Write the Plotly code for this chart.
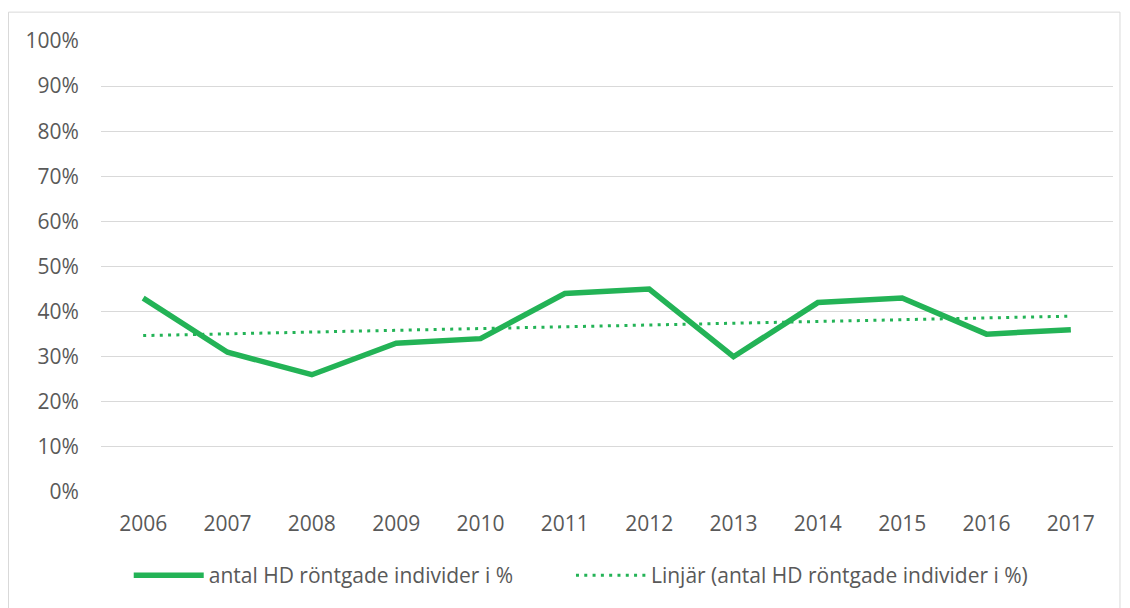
import numpy as np
import plotly.graph_objects as go

years = ["2006", "2007", "2008", "2009", "2010", "2011", "2012", "2013", "2014", "2015", "2016", "2017"]
values = [43, 31, 26, 33, 34, 44, 45, 30, 42, 43, 35, 36]
series_name = "antal HD röntgade individer i %"
trend_name = "Linjär (antal HD röntgade individer i %)"
y_ticks = list(range(0, 101, 10))
y_tick_labels = [f"{v}%" for v in y_ticks]

idx = np.arange(len(values))
slope, intercept = np.polyfit(idx, values, 1)
trend = slope * idx + intercept

green = "#23B356"
font_fam = "Open Sans, Lato, sans-serif"
txt_col = "#595959"

fig = go.Figure()
fig.add_trace(go.Scatter(x=years, y=values, mode="lines", name=series_name,
                         line=dict(color=green, width=5.5, shape="linear"),
                         legend="legend"))
fig.add_trace(go.Scatter(x=years, y=trend, mode="lines", name=trend_name,
                         line=dict(color=green, width=3, dash="3px,5.3px"),
                         legend="legend2"))

legend_common = dict(orientation="h", xanchor="left", y=-0.1854, yanchor="middle",
                     font=dict(size=21, color=txt_col), itemwidth=70,
                     bgcolor="rgba(0,0,0,0)")

fig.update_layout(
    width=1122, height=600,
    margin=dict(l=93, r=17, t=33, b=114),
    paper_bgcolor="white", plot_bgcolor="white",
    font=dict(family=font_fam, size=20, color=txt_col),
    showlegend=True,
    legend=dict(x=0.0274, **legend_common),
    legend2=dict(x=0.4644, **legend_common),
    shapes=[dict(type="rect", xref="paper", yref="paper",
                 x0=-0.0914, x1=1.0069, y0=-0.3, y1=1.064,
                 line=dict(color="#D9D9D9", width=1), fillcolor="rgba(0,0,0,0)", layer="below")],
)
fig.update_xaxes(type="category", range=[-0.5, 11.5], showgrid=False, showline=False,
                 zeroline=False, ticks="outside", ticklen=13, tickcolor="rgba(0,0,0,0)",
                 tickfont=dict(size=21, color=txt_col))
fig.update_yaxes(range=[0, 100], tickvals=y_ticks, ticktext=y_tick_labels,
                 showgrid=True, gridcolor="#D9D9D9", gridwidth=1, zeroline=False,
                 showline=False, ticks="outside", ticklen=17, tickcolor="rgba(0,0,0,0)",
                 tickfont=dict(size=21, color=txt_col))

fig.write_html("out.html")
